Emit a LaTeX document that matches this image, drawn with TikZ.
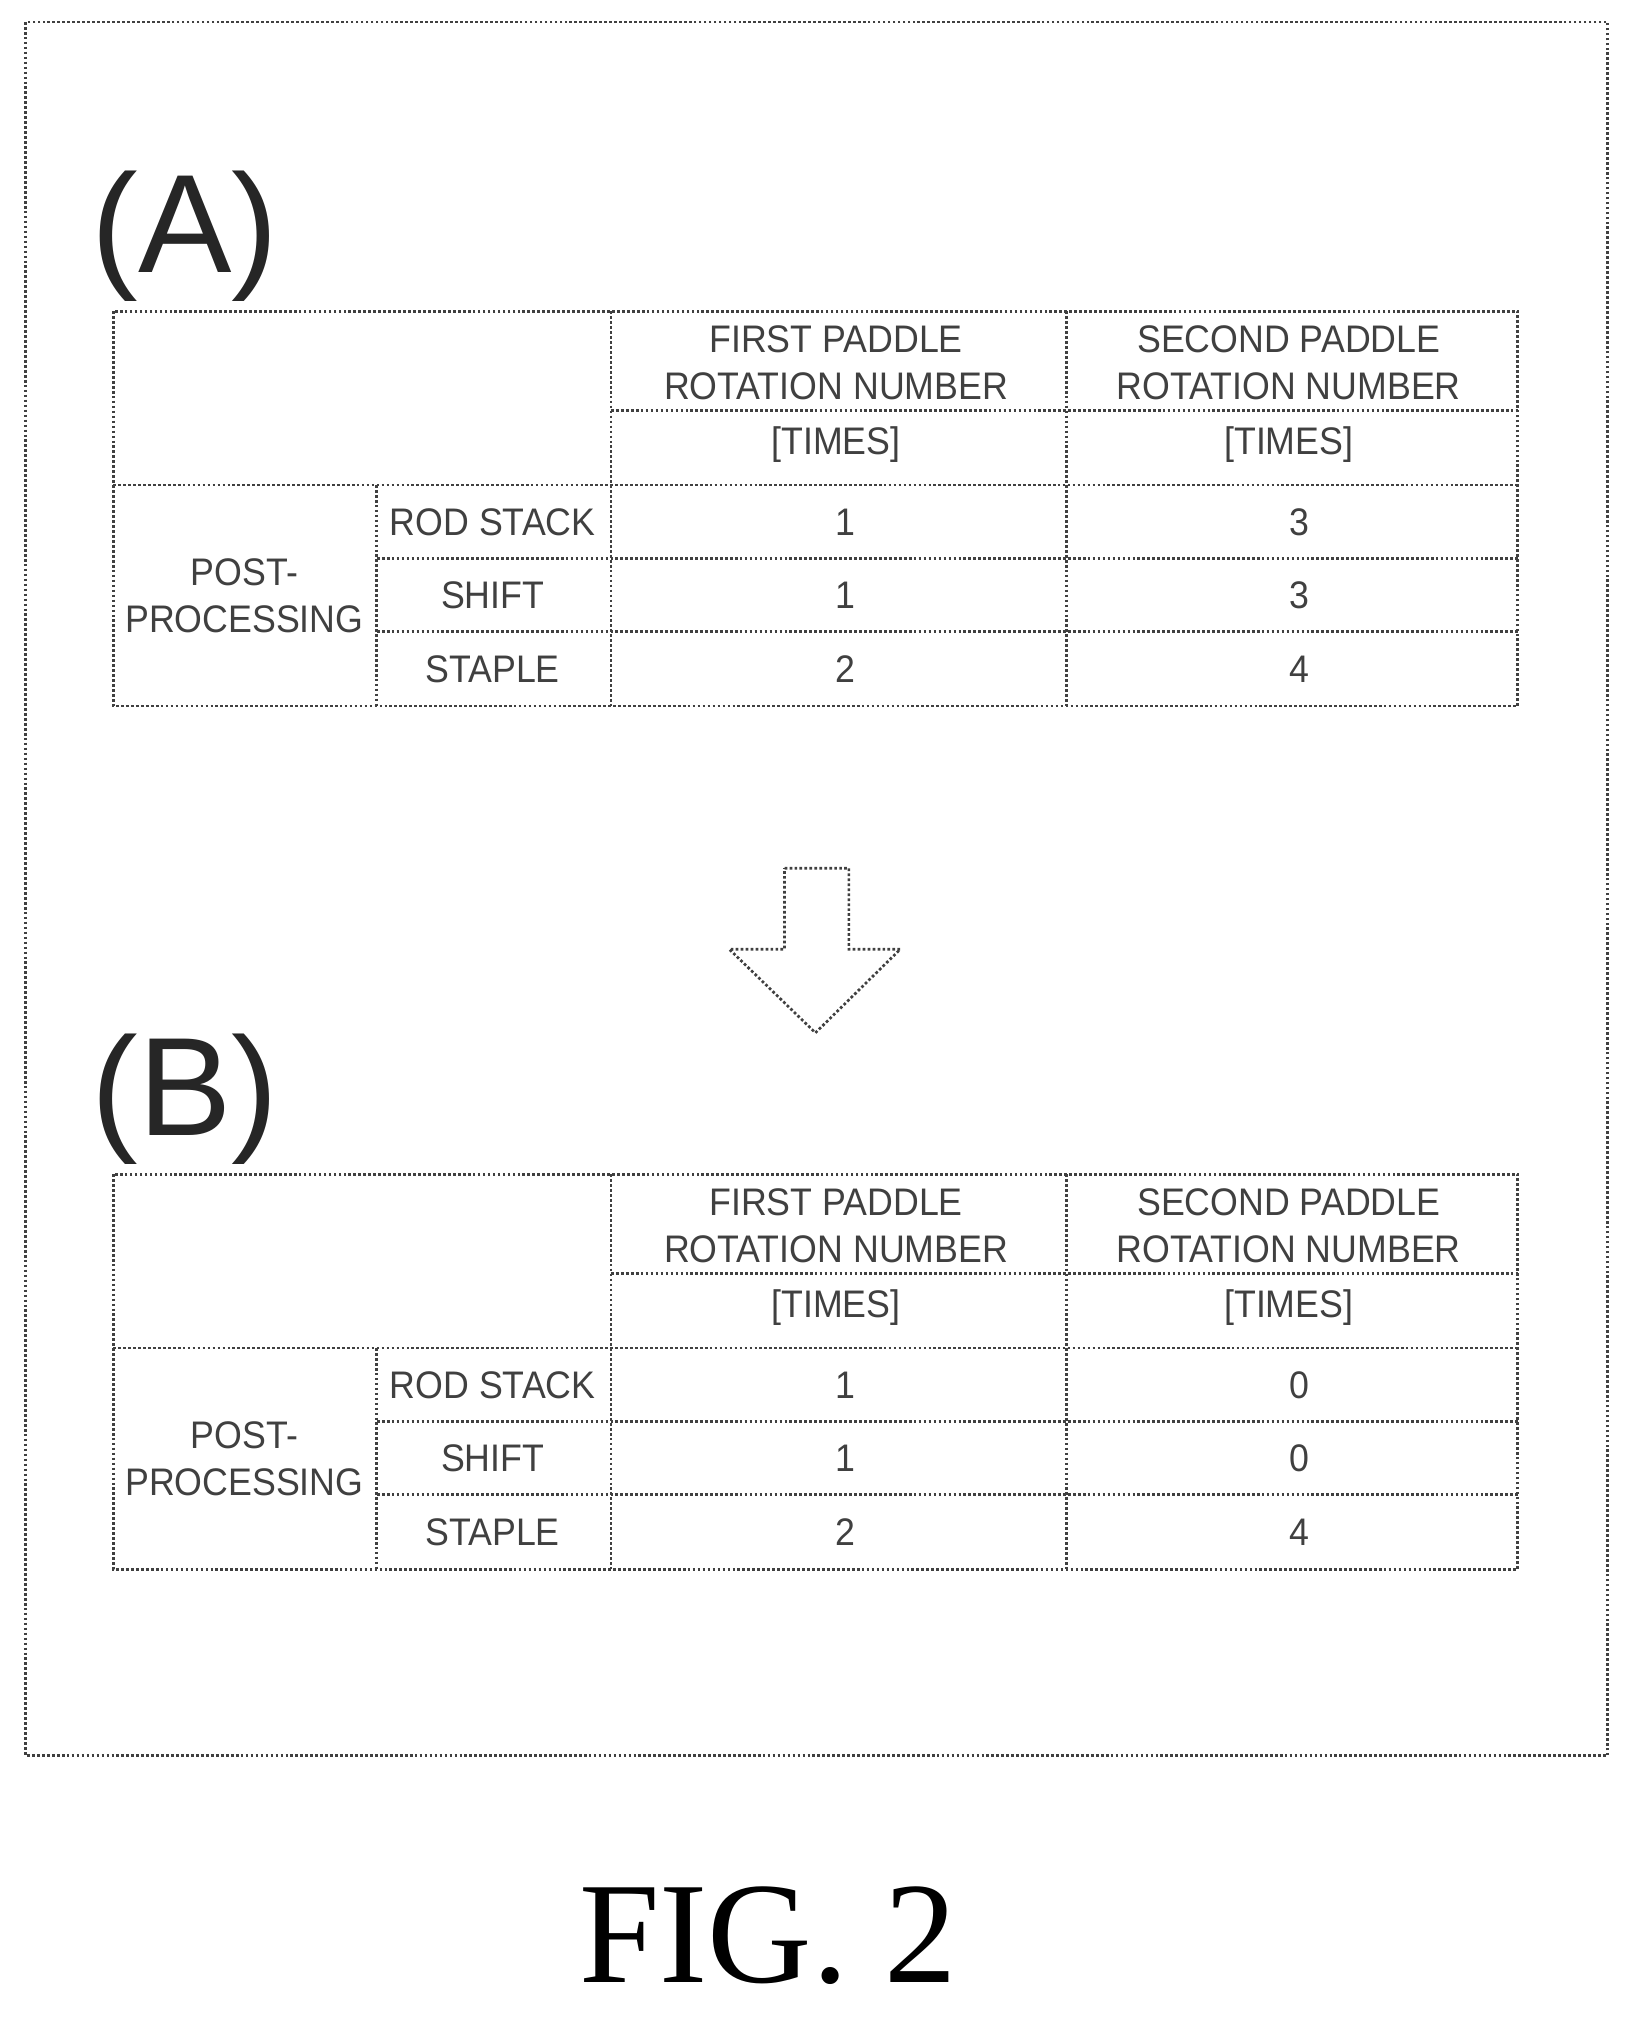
\documentclass[tikz,border=0pt]{standalone}
\usepackage{fontspec}
\setmainfont{Liberation Sans}
\newfontfamily\figfont{Liberation Serif}
\usetikzlibrary{positioning}

\begin{document}
\begin{tikzpicture}[
	x=0.02cm, y=-0.02cm,
	rule/.style={densely dotted, line width=1.2pt, black!75},
	cell/.style={font=\fontsize{17}{21}\selectfont, text=black!75, align=center, inner sep=0pt, xscale=0.93},
	tag/.style={font=\fontsize{62}{66}\selectfont, text=black!85, inner sep=0pt}
]

\useasboundingbox (0,0) rectangle (1270,1569);
\draw [rule] (20,17) rectangle (1250,1365);

% one table per panel
\foreach \p/\dy/\s/\u/\v in {A/0/3/3/4, B/671/0/0/4} {
\begin{scope}[yshift=-\dy*0.02cm]
 \node [tag] (lab\p) at (144,184) {(\p)};
 \draw [rule] (88,242) rectangle (1180,549);
 \draw [rule] (475,242) -- (475,549);
 \draw [rule] (829,242) -- (829,549);
 \draw [rule] (293,377) -- (293,549);
 \draw [rule] (475,319) -- (1180,319);
 \draw [rule] (88,377) -- (1180,377);
 \foreach \y in {434,491} \draw [rule] (293,\y) -- (1180,\y);

 \node [cell] (h1\p) at (650,282) {FIRST PADDLE\\ROTATION NUMBER};
 \node [cell] (h2\p) at (1002,282) {SECOND PADDLE\\ROTATION NUMBER};
 \node [cell] (u1\p) at (650,346) {[TIMES]};
 \node [cell] (u2\p) at (1002,346) {[TIMES]};
 \node [cell] (pp\p) at (190,463) {POST-\\PROCESSING};
 \node [cell] (r1\p) at (383,406) {ROD STACK};
 \node [cell] (r2\p) at (383,463) {SHIFT};
 \node [cell] (r3\p) at (383,520) {STAPLE};
 \node [cell] (a1\p) at (657,406) {1};
 \node [cell] (a2\p) at (657,463) {1};
 \node [cell] (a3\p) at (657,520) {2};
 \node [cell] (b1\p) at (1010,406) {\s};
 \node [cell] (b2\p) at (1010,463) {\u};
 \node [cell] (b3\p) at (1010,520) {\v};
\end{scope}
}

% arrow between panels
\draw [rule] (610,675) -- (660,675) -- (660,738) -- (700,738) -- (634,803)
	-- (567,738) -- (610,738) -- cycle;

\node [font=\figfont\fontsize{64}{68}\selectfont, inner sep=0pt] (fig) at (597,1505) {FIG. 2};

\end{tikzpicture}
\end{document}
